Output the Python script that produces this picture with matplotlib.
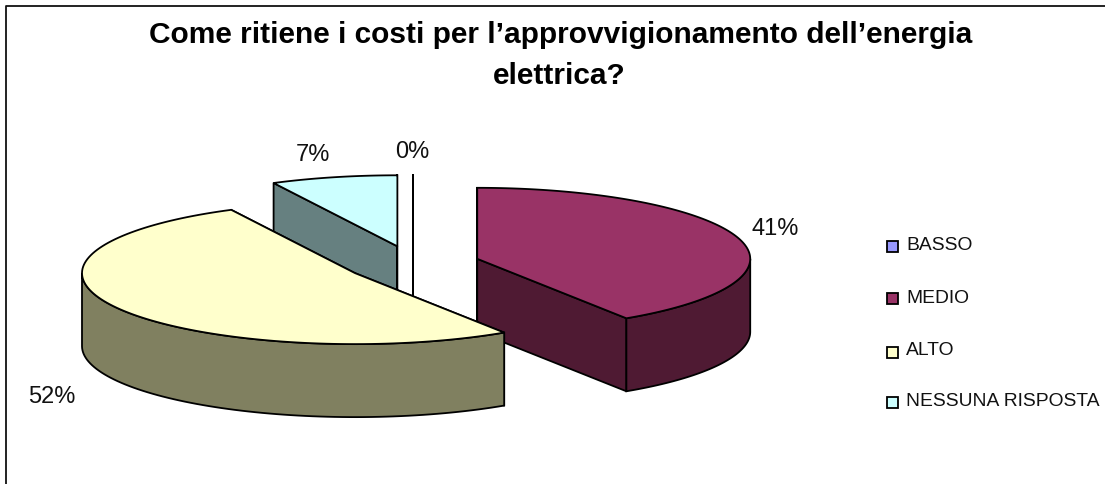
import numpy as np
import matplotlib
matplotlib.use('Agg')
import matplotlib.pyplot as plt
from matplotlib.patches import Polygon, Rectangle

plt.rcParams['font.family'] = ['Liberation Sans', 'DejaVu Sans']

categories = ['BASSO', 'MEDIO', 'ALTO', 'NESSUNA RISPOSTA']
values = [0.0, 40.8, 51.71, 7.49]
pct_labels = ['0%', '41%', '52%', '7%']
colors = ['#9999FF', '#993366', '#FFFFCC', '#CCFFFF']
side_colors = ['#4C4C80', '#4F1A33', '#808060', '#668080']
title_lines = ["Come ritiene i costi per l\u2019approvvigionamento dell\u2019energia", "elettrica?"]

# pie geometry in image pixels
CX, CY = 413, 265
RX, RY = 273, 71
DEPTH = 73
EXPLODE_X, EXPLODE_Y = 67, 18.2
label_pos = [(412, 152), (775, 229), (52, 397), (313, 155)]
title_pos = [(561, 43), (559, 84)]
legend_y = [247, 299.5, 353, 403]
legend_text_y = [246, 299, 351, 402]

fig = plt.figure(figsize=(11.05, 4.85), dpi=100)
ax = fig.add_axes([0, 0, 1, 1])
ax.set_xlim(0, 1105)
ax.set_ylim(485, 0)
ax.axis('off')


def rim(cx, cy, angles):
    t = np.radians(angles)
    return np.column_stack([cx + RX * np.sin(t), cy - RY * np.cos(t)])


def draw_slice(start, end, col, side):
    mid = np.radians((start + end) / 2)
    cx = CX + EXPLODE_X * np.sin(mid)
    cy = CY - EXPLODE_Y * np.cos(mid)
    drop = np.array([0, DEPTH])
    apex = np.array([cx, cy])
    # cut faces
    for a in (start, end):
        p = rim(cx, cy, [a])[0]
        ax.add_patch(Polygon([apex, p, p + drop, apex + drop], fc=side, ec='black', lw=1.3, joinstyle='round'))
    # outer wall, only the front half of the ellipse shows
    lo, hi = max(start, 90), min(end, 270)
    if hi > lo:
        arc = rim(cx, cy, np.linspace(lo, hi, 80))
        ax.add_patch(Polygon(np.vstack([arc, arc[::-1] + drop]), fc=side, ec='black', lw=1.3))
    # top
    arc = rim(cx, cy, np.linspace(start, end, 120))
    ax.add_patch(Polygon(np.vstack([apex, arc]), fc=col, ec='black', lw=1.3))


# chart frame, only top and left edges are in the crop
ax.plot([5.5, 5.5, 1105], [485, 6.5, 6.5], color='#111111', lw=1.3)

angles = np.cumsum([0] + values) / sum(values) * 360
for i in [0, 3, 1, 2]:
    draw_slice(angles[i], angles[i + 1], colors[i], side_colors[i])

for txt, (x, y) in zip(pct_labels, label_pos):
    ax.text(x, y, txt, fontsize=17, ha='center', va='center', color='#111111')

for line, (x, y) in zip(title_lines, title_pos):
    ax.text(x, y, line, fontsize=21.5, fontweight='bold', ha='center', va='baseline')

# legend
for name, col, y, ty in zip(categories, colors, legend_y, legend_text_y):
    ax.add_patch(Rectangle((887, y - 5.5), 11, 11, fc=col, ec='black', lw=1.3))
    ax.text(906, ty, name, fontsize=13.9, ha='left', va='center', color='#111111')

fig.savefig('out.png', dpi=100)
